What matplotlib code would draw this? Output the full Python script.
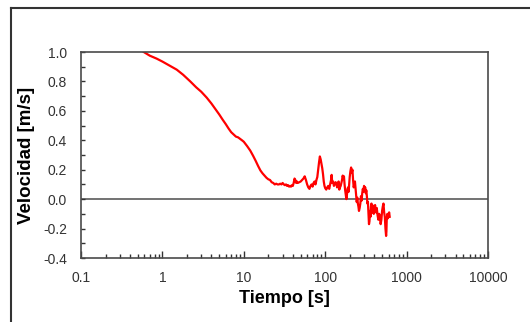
import matplotlib
matplotlib.use("Agg")
import matplotlib.pyplot as plt
from matplotlib.lines import Line2D
from matplotlib.ticker import FixedLocator, FuncFormatter, MultipleLocator

plt.rcParams["font.family"] = "Liberation Sans"
plt.rcParams["axes.unicode_minus"] = False

# tiempo [s] y velocidad [m/s]
tiempo = [0.59, 0.7, 0.85, 1.0, 1.2, 1.5, 1.8, 2.2, 2.6, 3.0, 3.5, 4.0, 4.5, 5.0,
          5.5, 6.0, 6.5, 7.0, 7.5, 8.0, 8.5, 9.0, 9.5, 10, 10.5, 11, 12, 13, 14,
          15, 16, 17, 18, 19, 20, 21, 22, 23, 24, 25, 26, 27, 28, 29, 30, 31, 32,
          33, 34, 35, 36, 37, 38, 39, 40, 41, 42, 43, 44, 45, 46, 48, 50, 52, 54,
          56, 58, 60, 62, 64, 66, 68, 70, 72, 74, 76, 78, 80, 82, 84, 86, 88, 90,
          92, 94, 96, 98, 100, 103, 106, 109, 112, 115, 118, 120, 122, 125, 128,
          131, 134, 137, 140, 143, 146, 149, 152, 155, 158, 161, 164, 167, 170,
          173, 176, 179, 182, 185, 188, 191, 194, 197, 200, 204, 208, 212, 216,
          220, 224, 228, 232, 236, 240, 244, 248, 252, 256, 260, 265, 270, 275,
          280, 285, 290, 295, 300, 305, 310, 315, 320, 325, 330, 335, 340, 345,
          350, 355, 360, 365, 370, 375, 380, 385, 390, 395, 400, 410, 420, 430,
          440, 450, 460, 470, 480, 490, 500, 510, 520, 530, 540, 550, 560, 565,
          570, 580, 590, 600, 610, 620]
velocidad = [1.00, 0.975, 0.955, 0.935, 0.91, 0.88, 0.845, 0.80, 0.76, 0.73, 0.69,
             0.65, 0.61, 0.575, 0.54, 0.51, 0.48, 0.455, 0.44, 0.425, 0.42, 0.41,
             0.40, 0.39, 0.375, 0.36, 0.33, 0.295, 0.26, 0.225, 0.195, 0.175, 0.16,
             0.145, 0.135, 0.13, 0.115, 0.11, 0.10, 0.105, 0.10, 0.10, 0.105, 0.10,
             0.11, 0.10, 0.095, 0.10, 0.09, 0.095, 0.085, 0.09, 0.085, 0.095, 0.09,
             0.11, 0.14, 0.13, 0.11, 0.12, 0.11, 0.115, 0.12, 0.13, 0.14, 0.155,
             0.13, 0.10, 0.08, 0.07, 0.09, 0.10, 0.085, 0.11, 0.12, 0.10, 0.13,
             0.15, 0.20, 0.25, 0.29, 0.27, 0.24, 0.21, 0.17, 0.12, 0.09, 0.075,
             0.065, 0.08, 0.09, 0.07, 0.10, 0.13, 0.165, 0.11, 0.12, 0.09, 0.10,
             0.115, 0.11, 0.08, 0.10, 0.12, 0.065, 0.08, 0.09, 0.11, 0.13, 0.16,
             0.14, 0.155, 0.10, 0.06, 0.03, 0.00, 0.03, 0.07, 0.08, 0.05, 0.10,
             0.15, 0.19, 0.215, 0.18, 0.20, 0.13, 0.08, 0.10, 0.12, 0.07, 0.03,
             -0.02, 0.01, -0.03, -0.05, -0.08, -0.06, -0.03, 0.02, -0.01, 0.04,
             0.07, 0.05, 0.09, 0.06, 0.08, 0.04, 0.06, 0.02, -0.03, -0.02, -0.10,
             -0.17, -0.15, -0.08, -0.12, -0.05, -0.03, -0.06, -0.04, -0.09, -0.06,
             -0.10, -0.07, -0.04, -0.09, -0.06, -0.11, -0.14, -0.10, -0.12, -0.17,
             -0.14, -0.08, -0.05, -0.03, -0.09, -0.12, -0.20, -0.25, -0.22, -0.14,
             -0.10, -0.13, -0.11, -0.09, -0.12]

x_ticks = [0.1, 1, 10, 100, 1000, 10000]
x_labels = ["0.1", "1", "10", "100", "1000", "10000"]

fig = plt.figure(figsize=(5.30, 3.22), dpi=100)
ax = fig.add_axes([81 / 530, 1 - 258 / 322, 407 / 530, 206 / 322])

ax.axhline(0, color="#5a5a5a", lw=1.2, zorder=1)
ax.plot(tiempo, velocidad, color="#ff0000", lw=1.6, zorder=2)

ax.set_xscale("log")
ax.set_xlim(0.1, 10000)
ax.set_ylim(-0.4, 1.0)
ax.xaxis.set_major_locator(FixedLocator(x_ticks))
ax.xaxis.set_major_formatter(FuncFormatter(lambda v, p: x_labels[x_ticks.index(v)] if v in x_ticks else ""))
ax.yaxis.set_major_locator(MultipleLocator(0.2))
ax.yaxis.set_minor_locator(MultipleLocator(0.1))
ax.yaxis.set_major_formatter(FuncFormatter(lambda v, p: "%.1f" % v))

ax.tick_params(axis="both", which="both", direction="in", colors="#333333",
               labelsize=10, width=1)
ax.tick_params(axis="x", which="major", length=5, pad=9)
ax.tick_params(axis="x", which="minor", length=3)
ax.tick_params(axis="y", which="both", length=3, pad=10)
ax.tick_params(right=False, top=False, which="both")

for s in ax.spines.values():
    s.set_color("#4a4a4a")
    s.set_linewidth(1.2)

ax.set_xlabel("Tiempo [s]", fontsize=13, fontweight="bold", labelpad=4)
ax.set_ylabel("Velocidad [m/s]", fontsize=13.5, fontweight="bold", labelpad=6)

# marco exterior
fig.add_artist(Line2D([11 / 530, 11 / 530], [0, 1 - 7.5 / 322], color="#333333", lw=1.5))
fig.add_artist(Line2D([11 / 530, 1], [1 - 7.5 / 322, 1 - 7.5 / 322], color="#333333", lw=1.5))

fig.savefig("out.png", dpi=100)
